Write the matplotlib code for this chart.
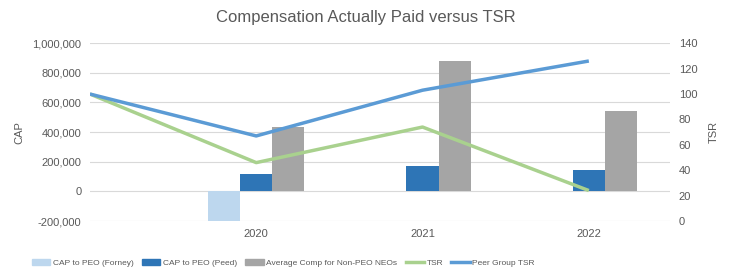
import numpy as np
import matplotlib.pyplot as plt
from matplotlib.patches import Patch
from matplotlib.lines import Line2D

plt.rcParams['font.family'] = ['Liberation Sans', 'DejaVu Sans']

# data
years = ['', '2020', '2021', '2022']
cap_forney = [np.nan, -200000, np.nan, np.nan]
cap_peed = [np.nan, 117000, 173000, 144000]
avg_neo = [np.nan, 436000, 880000, 545000]
tsr = [100, 46, 74, 24]
peer_tsr = [100, 67, 103, 126]

c_forney = '#BDD7EE'
c_peed = '#2E75B6'
c_gray = '#A5A5A5'
c_tsr = '#A9D18E'
c_peer = '#5B9BD5'
txt = '#595959'

fig = plt.figure(figsize=(7.31, 2.77), dpi=100)
ax = fig.add_axes([0.123, 0.202, 0.794, 0.642])
ax2 = ax.twinx()

x = np.arange(len(years))
w = 0.193
ax.bar(x - w, cap_forney, w, color=c_forney, zorder=2)
ax.bar(x, cap_peed, w, color=c_peed, zorder=2)
ax.bar(x + w, avg_neo, w, color=c_gray, zorder=2)

ax2.plot(x, tsr, color=c_tsr, lw=2.5, solid_capstyle='butt')
ax2.plot(x, peer_tsr, color=c_peer, lw=2.5, solid_capstyle='butt')

ax.set_xlim(0, 3.49)
ax.set_ylim(-200000, 1000000)
ax.set_yticks(np.arange(-200000, 1000001, 200000))
ax.set_yticklabels([f'{v:,}' for v in range(-200000, 1000001, 200000)])
ax2.set_ylim(0, 140)
ax2.set_yticks(range(0, 141, 20))

ax.set_xticks(x[1:])
ax.set_xticklabels(years[1:])

ax.grid(axis='y', color='#D9D9D9', lw=0.8, zorder=0)
ax.set_axisbelow(True)
for a in (ax, ax2):
    for s in a.spines.values():
        s.set_visible(False)
    a.tick_params(length=0, labelsize=8, colors=txt, pad=6)

ax.set_ylabel('CAP', fontsize=8, color=txt, labelpad=6)
ax2.set_ylabel('TSR', fontsize=8, color=txt, labelpad=8)

fig.suptitle('Compensation Actually Paid versus TSR', y=0.965, fontsize=12, color=txt)

handles = [
    Patch(color=c_forney, label='CAP to PEO (Forney)'),
    Patch(color=c_peed, label='CAP to PEO (Peed)'),
    Patch(color=c_gray, label='Average Comp for Non-PEO NEOs'),
    Line2D([], [], color=c_tsr, lw=2.5, label='TSR'),
    Line2D([], [], color=c_peer, lw=2.5, label='Peer Group TSR'),
]
fig.legend(handles=handles, loc='center left', bbox_to_anchor=(0.044, 0.05), ncol=5,
           frameon=False, labelcolor=txt, fontsize=6.0, handlelength=2.2,
           handleheight=0.6, handletextpad=0.3, columnspacing=1.0,
           borderpad=0, borderaxespad=0)

fig.savefig('out.png', dpi=100)
